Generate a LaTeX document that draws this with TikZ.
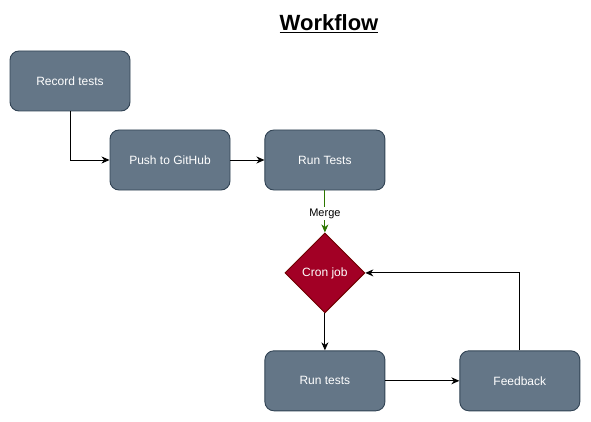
\documentclass[tikz,border=0pt]{standalone}
\usepackage{fontspec}
\setmainfont{Liberation Sans}
\usetikzlibrary{shapes.geometric, arrows.meta, positioning}
\definecolor{wfgrey}{RGB}{100,118,135}
\definecolor{wfgreyline}{RGB}{49,67,84}
\definecolor{wfred}{RGB}{162,0,37}
\definecolor{wfredline}{RGB}{111,0,0}
\definecolor{wfgreen}{RGB}{45,118,0}
\tikzset{
  task/.style     = {rectangle, rounded corners=9pt, draw=wfgreyline, line width=0.9pt,
                     fill=wfgrey, text=white, align=center,
                     minimum width=120pt, minimum height=60pt,
                     font=\fontsize{12}{14}\selectfont, inner sep=2pt},
  choice/.style   = {diamond, draw=wfredline, line width=0.9pt, fill=wfred,
                     text=white, align=center, aspect=1,
                     minimum width=80pt, minimum height=80pt, inner sep=0pt,
                     font=\fontsize{12}{14}\selectfont},
  flow/.style     = {-{Stealth[length=8pt,width=7pt,inset=2.5pt]}, line width=0.9pt, draw=black},
  mergeflow/.style= {-{Stealth[length=8pt,width=7pt,inset=2.5pt]}, line width=0.9pt, draw=wfgreen},
  flowlab/.style  = {font=\fontsize{11}{13}\selectfont, text=black, fill=white, inner sep=1.5pt},
}
\begin{document}
\begin{tikzpicture}[x=1pt, y=-1pt]
  \useasboundingbox (0,0) rectangle (591,422);
  \node[font=\bfseries\fontsize{22}{26}\selectfont] (title) at (329,24) {\underline{Workflow}};
  \node[task] (record) at (70,81) {Record tests};
  \node[task] (push) at (170,160) {Push to GitHub};
  \node[task, right=34pt of push] (runa) {Run Tests};
  \node[choice, below=42pt of runa] (cron) {Cron job};
  \node[task, below=37pt of cron] (runb) {Run tests};
  \node[task, right=74pt of runb] (feedback) {Feedback};
  \draw[flow] (record.south) |- (push.west);
  \draw[flow] (push) -- (runa);
  \draw[mergeflow] (runa) -- node[flowlab, pos=0.55] {Merge} (cron);
  \draw[flow] (cron) -- (runb);
  \draw[flow] (runb) -- (feedback);
  \draw[flow] (feedback.north) |- (cron.east);
\end{tikzpicture}
\end{document}
